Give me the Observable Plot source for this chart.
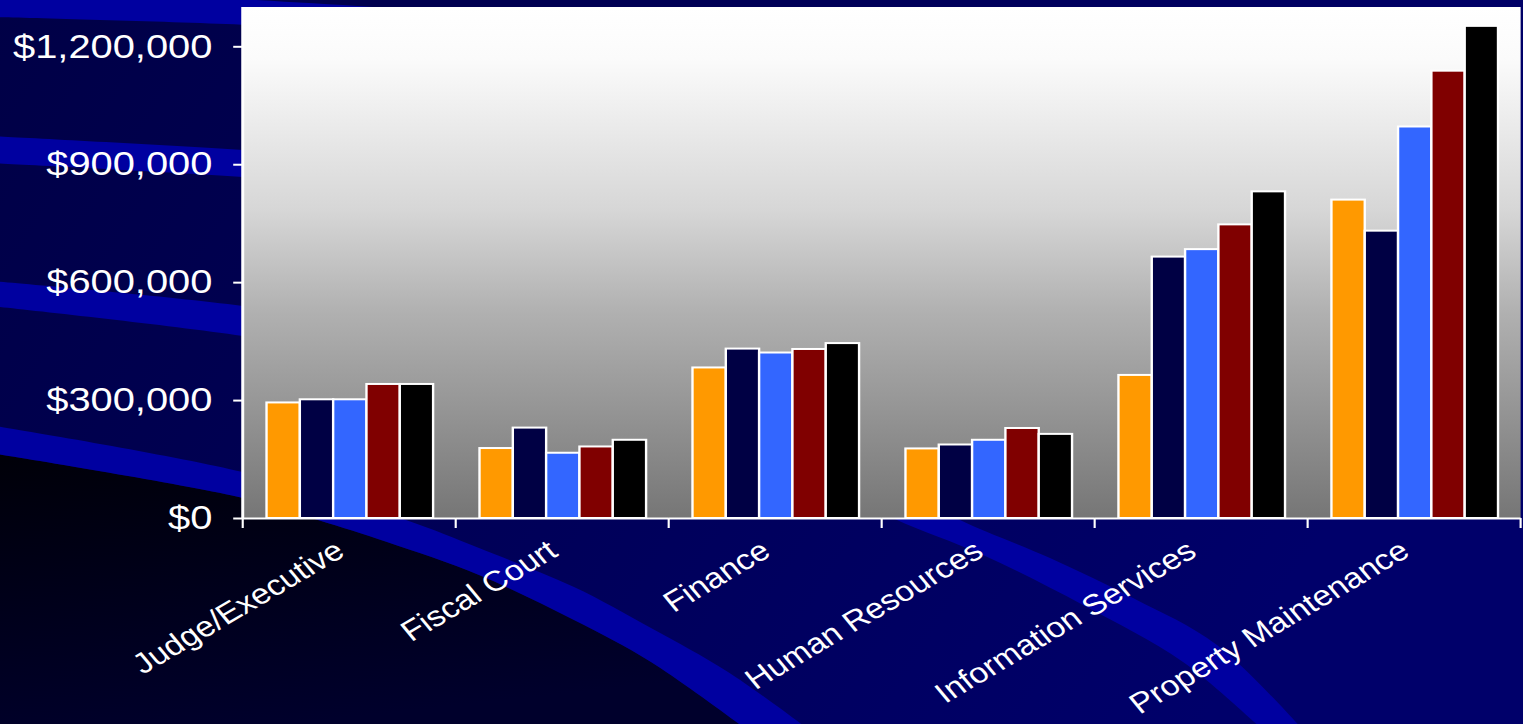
<!DOCTYPE html>
<html><head><meta charset="utf-8">
<script src="https://cdn.jsdelivr.net/npm/d3@7"></script>
<script src="https://cdn.jsdelivr.net/npm/@observablehq/plot@0.6"></script>
<style>
html,body{margin:0;padding:0;background:#000050;overflow:hidden;}
#wrap{position:relative;width:1523px;height:724px;overflow:hidden;}
#bg{position:absolute;left:0;top:0;}
#chart{position:absolute;left:0;top:0;}
</style></head><body>
<div id="wrap"><svg id="bg" width="1523" height="724"></svg><div id="chart"></div></div>
<script>
// ---- data ----
const categories = ["Judge/Executive","Fiscal Court","Finance","Human Resources","Information Services","Property Maintenance"];
const series = ["Year 1","Year 2","Year 3","Year 4","Year 5"];
const seriesColors = ["#ff9900","#000044","#3366ff","#800000","#000000"];
const year1 = [294000,178000,383000,177000,364000,810000];
const year2 = [302000,230000,431000,187000,665000,731000];
const year3 = [302000,166000,421000,199000,684000,996000];
const year4 = [341000,182000,430000,229000,747000,1138000];
const year5 = [341000,199000,445000,214000,831000,1252000];
const yTicks = [0,300000,600000,900000,1200000];

const seriesValues = [year1,year2,year3,year4,year5];
const rows = [];
categories.forEach((c,i)=>series.forEach((s,j)=>rows.push({category:c, series:s, value:seriesValues[j][i]})));

// ---- decorative background ----
const bg = d3.select("#bg");
const bdefs = bg.append("defs");
const g1 = bdefs.append("linearGradient").attr("id","navy").attr("x1",0).attr("x2",1).attr("y1",0).attr("y2",0.3);
g1.append("stop").attr("offset","0%").attr("stop-color","#000046");
g1.append("stop").attr("offset","100%").attr("stop-color","#00006a");
const g2 = bdefs.append("linearGradient").attr("id","dark").attr("x1",0).attr("x2",0.3).attr("y1",0).attr("y2",1);
g2.append("stop").attr("offset","0%").attr("stop-color","#000008");
g2.append("stop").attr("offset","100%").attr("stop-color","#00002c");
bg.append("rect").attr("width",1523).attr("height",724).attr("fill","url(#navy)");
const cl = d3.line().curve(d3.curveCatmullRom);
function bandPath(a,b){ return cl(a) + "L" + cl(b.slice().reverse()).slice(1) + "Z"; }
const bands = [
  [[[-10,-12],[200,-3],[373,7],[600,22]], [[-10,17],[250,25],[600,45]]],
  [[[-10,136],[243,150],[600,175]], [[-10,163],[243,177],[600,205]]],
  [[[-10,281],[243,306],[600,360]], [[-10,306],[243,336],[600,395]]],
  [[[-10,425],[243,472],[406,520],[479,548],[574,587],[651,628],[728,672],[812,732]],
   [[-10,453],[243,498],[318,520],[387,542],[479,575],[574,620],[651,662],[750,732]]],
  [[[860,500],[897,520],[983,555],[1083,605],[1183,662],[1265,732]],
   [[925,500],[960,520],[1050,558],[1133,598],[1217,645],[1305,732]]]
];
const darkEdge = [[-10,453],[243,498],[318,520],[387,542],[479,575],[574,620],[651,662],[750,732]];
bg.append("path").attr("d", cl(darkEdge) + "L-10,732Z").attr("fill","url(#dark)");
bands.forEach(([a,b])=>bg.append("path").attr("d",bandPath(a,b)).attr("fill","#0000a0"));

// ---- chart (drawn at 1280 wide, stretched horizontally to 1523) ----
const W = 1280, H = 724;
const chart = Plot.plot({
  width: W, height: H,
  marginLeft: 204, marginRight: 2, marginTop: 7, marginBottom: 206,
  style: {background: "transparent", fontFamily: "'Liberation Sans', Arial, sans-serif", color: "white", overflow: "visible"},
  fx: {domain: categories, padding: 0, label: null},
  x: {domain: series, paddingInner: 0, paddingOuter: 0.69, axis: null},
  y: {domain: [0, 1300000], axis: null},
  color: {domain: series, range: seriesColors},
  marks: [
    Plot.barY(rows, {fx: "category", x: "series", y: "value", fill: "series", stroke: "white", strokeWidth: 2, insetLeft: 0, insetRight: 0}),
    Plot.ruleY([0], {stroke: "white", strokeWidth: 2.2}),
    Plot.axisY(yTicks, {tickFormat: d3.format("$,"), fontSize: 33.5, tickSize: 8, tickPadding: 18, stroke: "white", strokeWidth: 2, fill: "white", label: null}),
    Plot.axisFx({anchor: "bottom", tickRotate: -35, tickSize: 0, tickPadding: 29, dx: -8, fontSize: 28.5, fill: "white", label: null})
  ]
});
document.getElementById("chart").appendChild(chart);

const svg = d3.select(chart);
const fx = chart.scale("fx"), y = chart.scale("y");
const y0 = y.apply(0), yTop = y.apply(1300000);
const xs = categories.map(c => fx.apply(c));
xs.push(xs[xs.length-1] + fx.bandwidth);

const defs = svg.insert("defs", ":first-child");
const pg = defs.append("linearGradient").attr("id","plotbg").attr("x1",0).attr("x2",0).attr("y1",0).attr("y2",1);
[["0%","#ffffff"],["10%","#fbfbfb"],["40%","#d6d6d6"],["60%","#b0b0b0"],["80%","#939393"],["100%","#767676"]]
  .forEach(([o,c])=>pg.append("stop").attr("offset",o).attr("stop-color",c));
svg.insert("rect", "g").attr("x", xs[0]).attr("y", yTop).attr("width", xs[xs.length-1]-xs[0]).attr("height", y0-yTop).attr("fill","url(#plotbg)");
// plot-area left edge and category boundary ticks
svg.append("line").attr("x1",xs[0]).attr("x2",xs[0]).attr("y1",yTop).attr("y2",y0+1).attr("stroke","white").attr("stroke-width",2.5);
xs.forEach(x=>svg.append("line").attr("x1",x).attr("x2",x).attr("y1",y0).attr("y2",y0+10).attr("stroke","white").attr("stroke-width",1.8));

svg.attr("width",1523).attr("height",724).attr("viewBox",`0 0 ${W} ${H}`).attr("preserveAspectRatio","none");
chart.style.width = "1523px"; chart.style.height = "724px"; chart.style.maxWidth = "none";
</script>
</body></html>
